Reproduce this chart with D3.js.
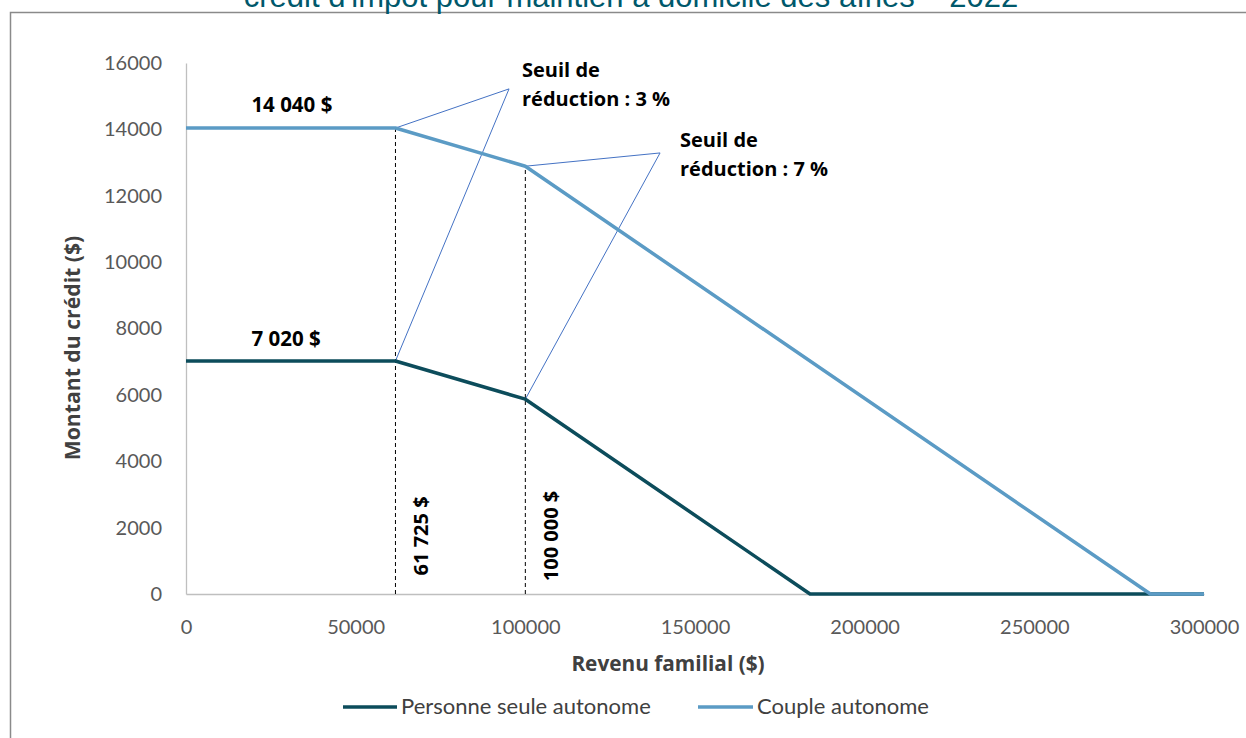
<!DOCTYPE html>
<html><head><meta charset="utf-8">
<script src="https://cdn.jsdelivr.net/npm/d3@7"></script>
<style>
html,body{margin:0;padding:0;background:#fff;overflow:hidden}
svg{display:block}
</style></head>
<body>
<svg id="c" width="1246" height="738"></svg>
<script>
// ---- data ----
const title = "crédit d'impôt pour maintien à domicile des aînés – 2022";
const seriesNames = ["Personne seule autonome", "Couple autonome"];
const singleIncome = [0, 61725, 100000, 183900, 300000];
const singleCredit = [7020, 7020, 5870, 0, 0];
const coupleIncome = [0, 61725, 100000, 284200, 300000];
const coupleCredit = [14040, 14040, 12890, 0, 0];
const xTicks = [0, 50000, 100000, 150000, 200000, 250000, 300000];
const yTicks = [0, 2000, 4000, 6000, 8000, 10000, 12000, 14000, 16000];
const thresholds = [61725, 100000];
const thresholdLabels = ["61 725 $", "100 000 $"];
const maxLabels = ["14 040 $", "7 020 $"];
const calloutLabels = [["Seuil de", "réduction : 3 %"], ["Seuil de", "réduction : 7 %"]];
const calloutTips = [[95200, 15220], [139700, 13290]];

const colors = ["#0c4c5b", "#5b9bc5"];
const svg = d3.select("#c");
const fontTick = "Lato, 'Open Sans', sans-serif";
const fontBold = "'Open Sans', 'Noto Sans', sans-serif";

// border
svg.append("rect").attr("x", 10.5).attr("y", 12.5).attr("width", 1300).attr("height", 800)
  .attr("fill", "none").attr("stroke", "#8a8a8a").attr("stroke-width", 1.5);

// title (cut off at top in the reference)
svg.append("text").attr("x", 631).attr("y", 7).attr("text-anchor", "middle")
  .attr("font-family", "'Liberation Sans', Arial, sans-serif").attr("font-size", 31)
  .attr("fill", "#00586b").text(title);

const x = d3.scaleLinear().domain([0, 300000]).range([186, 1204]);
const y = d3.scaleLinear().domain([0, 16000]).range([594, 63]);

// axes
const yAxis = svg.append("g").attr("transform", "translate(186,0)")
  .call(d3.axisLeft(y).tickValues(yTicks).tickSize(0).tickPadding(24).tickFormat(d3.format("d")));
yAxis.select(".domain").attr("stroke", "#bfbfbf").attr("stroke-width", 1.3);
yAxis.selectAll("text").attr("font-family", fontTick).attr("font-size", 20).attr("fill", "#595959");

const xAxis = svg.append("g").attr("transform", "translate(0,594)")
  .call(d3.axisBottom(x).tickValues(xTicks).tickSize(0).tickPadding(26).tickFormat(d3.format("d")));
xAxis.select(".domain").attr("stroke", "#bfbfbf").attr("stroke-width", 1.3);
xAxis.selectAll("text").attr("font-family", fontTick).attr("font-size", 20).attr("fill", "#595959");

// axis titles
svg.append("text").attr("x", 668).attr("y", 671).attr("text-anchor", "middle")
  .attr("font-family", fontBold).attr("font-weight", "bold").attr("font-size", 20.8)
  .attr("fill", "#404040").text("Revenu familial ($)");
svg.append("text").attr("transform", "translate(80,348) rotate(-90)").attr("text-anchor", "middle")
  .attr("font-family", fontBold).attr("font-weight", "bold").attr("font-size", 21.2)
  .attr("fill", "#404040").text("Montant du crédit ($)");

// threshold dashed lines
const singleAt = v => singleCredit[singleIncome.indexOf(v)];
const coupleAt = v => coupleCredit[coupleIncome.indexOf(v)];
thresholds.forEach((t, i) => {
  svg.append("line").attr("x1", x(t)).attr("x2", x(t)).attr("y1", y(0)).attr("y2", y(coupleAt(t)))
    .attr("stroke", "#000").attr("stroke-width", 1).attr("stroke-dasharray", "4,3");
  svg.append("text").attr("transform", `translate(${x(t) + 33},${y(1750)}) rotate(-90)`)
    .attr("text-anchor", "middle").attr("font-family", fontBold).attr("font-weight", "bold")
    .attr("font-size", 20).attr("fill", "#000").text(thresholdLabels[i]);
});

// callouts
thresholds.forEach((t, i) => {
  const tip = calloutTips[i];
  const pts = [[x(t), y(coupleAt(t))], [x(tip[0]), y(tip[1])], [x(t), y(singleAt(t))]];
  svg.append("path").attr("d", d3.line()(pts)).attr("fill", "none")
    .attr("stroke", "#4472c4").attr("stroke-width", 1);
});

// series lines
const line = d3.line().x(d => x(d[0])).y(d => y(d[1]));
const singleData = singleIncome.map((v, i) => [v, singleCredit[i]]);
const coupleData = coupleIncome.map((v, i) => [v, coupleCredit[i]]);
svg.append("path").attr("d", line(singleData)).attr("fill", "none")
  .attr("stroke", colors[0]).attr("stroke-width", 3.5).attr("stroke-linejoin", "round");
svg.append("path").attr("d", line(coupleData)).attr("fill", "none")
  .attr("stroke", colors[1]).attr("stroke-width", 3.5).attr("stroke-linejoin", "round");

// max labels
svg.append("text").attr("x", x(31200)).attr("y", y(coupleCredit[0]) - 16).attr("text-anchor", "middle")
  .attr("font-family", fontBold).attr("font-weight", "bold").attr("font-size", 20.5).text(maxLabels[0]);
svg.append("text").attr("x", x(29500)).attr("y", y(singleCredit[0]) - 15).attr("text-anchor", "middle")
  .attr("font-family", fontBold).attr("font-weight", "bold").attr("font-size", 20.5).text(maxLabels[1]);

// callout labels
const calloutPos = [[522, 77], [680, 147]];
calloutLabels.forEach((lines, i) => {
  const t = svg.append("text").attr("font-family", fontBold).attr("font-weight", "bold")
    .attr("font-size", 20).attr("fill", "#000");
  lines.forEach((l, j) => t.append("tspan").attr("x", calloutPos[i][0]).attr("y", calloutPos[i][1] + j * 28.5).text(l));
});

// legend
const legend = [[343, 397, 401], [698, 753, 757]];
seriesNames.forEach((n, i) => {
  svg.append("line").attr("x1", legend[i][0]).attr("x2", legend[i][1]).attr("y1", 707).attr("y2", 707)
    .attr("stroke", colors[i]).attr("stroke-width", 3.5);
  svg.append("text").attr("x", legend[i][2]).attr("y", 714).attr("font-family", fontTick)
    .attr("font-size", 22).attr("fill", "#404040").text(n);
});
</script>
</body></html>
